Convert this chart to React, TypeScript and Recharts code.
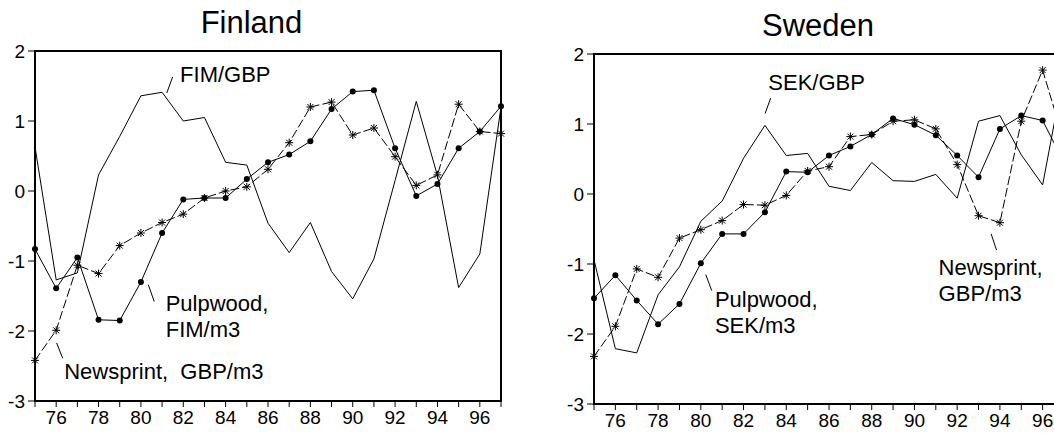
import { LineChart, Line, XAxis, YAxis, ReferenceArea, ReferenceLine, ReferenceDot } from 'recharts'

const years = [75, 76, 77, 78, 79, 80, 81, 82, 83, 84, 85, 86, 87, 88, 89, 90, 91, 92, 93, 94, 95, 96, 97]
const yTicks = [-3, -2, -1, 0, 1, 2]

// Finland
const finFimGbp = [0.63, -1.27, -1.17, 0.23, 0.78, 1.36, 1.41, 1.0, 1.05, 0.41, 0.37, -0.46, -0.88, -0.45, -1.15, -1.54, -0.97, 0.15, 1.28, 0.22, -1.38, -0.9, 1.2]
const finPulp = [-0.83, -1.39, -0.95, -1.84, -1.85, -1.3, -0.6, -0.12, -0.1, -0.1, 0.17, 0.41, 0.52, 0.71, 1.17, 1.42, 1.44, 0.61, -0.07, 0.1, 0.61, 0.85, 1.21]
const finNews = [-2.42, -1.99, -1.06, -1.18, -0.78, -0.6, -0.45, -0.33, -0.1, 0.0, 0.06, 0.31, 0.69, 1.2, 1.27, 0.8, 0.9, 0.49, 0.08, 0.23, 1.24, 0.85, 0.82]

// Sweden
const sweSekGbp = [-0.94, -2.21, -2.27, -1.44, -1.04, -0.39, -0.1, 0.51, 0.98, 0.55, 0.58, 0.11, 0.05, 0.45, 0.19, 0.18, 0.28, -0.06, 1.04, 1.12, 0.56, 0.13, 1.75]
const swePulp = [-1.49, -1.16, -1.52, -1.86, -1.57, -0.99, -0.57, -0.57, -0.26, 0.32, 0.31, 0.55, 0.68, 0.85, 1.08, 0.99, 0.84, 0.55, 0.24, 0.93, 1.12, 1.05, 0.45]
const sweNews = [-2.32, -1.89, -1.07, -1.19, -0.63, -0.51, -0.38, -0.15, -0.16, -0.02, 0.33, 0.39, 0.82, 0.85, 1.04, 1.06, 0.93, 0.42, -0.31, -0.41, 1.04, 1.77, 0.75]

// annotation text (data coords of first baseline) and leader segments
const finLabels = [
  { x: 81.85, y: 1.56, lines: ['FIM/GBP'] },
  { x: 81.17, y: -1.72, lines: ['Pulpwood,', 'FIM/m3'] },
  { x: 76.38, y: -2.69, lines: ['Newsprint,  GBP/m3'] },
]
const finLeaders = [
  [81.5, 1.63, 81.22, 1.4],
  [80.35, -1.34, 80.63, -1.58],
  [76.02, -2.17, 76.31, -2.39],
]
const sweLabels = [
  { x: 83.16, y: 1.48, lines: ['SEK/GBP'] },
  { x: 80.66, y: -1.61, lines: ['Pulpwood,', 'SEK/m3'] },
  { x: 91.13, y: -1.16, lines: ['Newsprint,', 'GBP/m3'] },
]
const sweLeaders = [
  [83.27, 1.37, 83.01, 1.15],
  [80.23, -1.15, 80.51, -1.38],
  [93.59, -0.57, 93.84, -0.8],
]

const FONT = '"Liberation Sans", Arial, sans-serif'

function Asterisk(props: any) {
  const { cx, cy } = props
  if (cx == null || cy == null) return <g key={props.index} />
  const s = 4
  const d = 3
  return (
    <g key={props.index} stroke="#000" strokeWidth={1}>
      <line x1={cx - s} y1={cy} x2={cx + s} y2={cy} />
      <line x1={cx} y1={cy - s} x2={cx} y2={cy + s} />
      <line x1={cx - d} y1={cy - d} x2={cx + d} y2={cy + d} />
      <line x1={cx - d} y1={cy + d} x2={cx + d} y2={cy - d} />
    </g>
  )
}

function labelShape(lines: string[]) {
  return (p: any) => (
    <text x={p.cx} y={p.cy} fontSize={22} fontFamily={FONT} fill="#000" style={{ whiteSpace: 'pre' }}>
      {lines.map((l, i) => (
        <tspan key={i} x={p.cx} dy={i === 0 ? 0 : 26}>{l}</tspan>
      ))}
    </text>
  )
}

interface PanelProps {
  rate: number[]
  pulp: number[]
  news: number[]
  labels: { x: number; y: number; lines: string[] }[]
  leaders: number[][]
  width: number
  margin: { top: number; right: number; bottom: number; left: number }
  xHeight: number
}

function Panel({ rate, pulp, news, labels, leaders, width, margin, xHeight }: PanelProps) {
  const data = years.map((yr, i) => ({ yr, rate: rate[i], pulp: pulp[i], news: news[i] }))
  const tick = { fontSize: 19, fill: '#000', fontFamily: FONT }
  return (
    <LineChart width={width} height={435} data={data} margin={margin}>
      <XAxis
        dataKey="yr"
        type="number"
        domain={[75, 97]}
        ticks={years}
        interval={0}
        tickFormatter={(v: number) => (v % 2 === 0 ? String(v) : '')}
        axisLine={false}
        tickLine={{ stroke: '#000', strokeWidth: 1 }}
        tickSize={6}
        tickMargin={4}
        height={xHeight}
        tick={tick}
      />
      <YAxis
        type="number"
        domain={[-3, 2]}
        ticks={yTicks}
        interval={0}
        axisLine={false}
        tickLine={{ stroke: '#000', strokeWidth: 1 }}
        tickSize={7}
        tickMargin={3}
        width={35}
        tick={tick}
      />
      <ReferenceArea x1={75} x2={97} y1={-3} y2={2} fill="none" stroke="#000" strokeWidth={2} fillOpacity={0} ifOverflow="visible" />
      <Line dataKey="rate" stroke="#000" strokeWidth={1} dot={false} isAnimationActive={false} />
      <Line dataKey="pulp" stroke="#000" strokeWidth={1} dot={{ r: 3, fill: '#000', stroke: '#000', strokeWidth: 0 }} isAnimationActive={false} />
      <Line dataKey="news" stroke="#000" strokeWidth={1} strokeDasharray="9 3" dot={(p: any) => <Asterisk {...p} key={p.index} />} isAnimationActive={false} />
      {leaders.map((s, i) => (
        <ReferenceLine key={'l' + i} segment={[{ x: s[0], y: s[1] }, { x: s[2], y: s[3] }]} stroke="#000" strokeWidth={1} />
      ))}
      {labels.map((l, i) => (
        <ReferenceDot key={'t' + i} x={l.x} y={l.y} r={0} shape={labelShape(l.lines)} />
      ))}
    </LineChart>
  )
}

export default function App() {
  return (
    <div style={{ position: 'fixed', left: 0, top: 0, width: 1054, height: 435, overflow: 'hidden', background: '#fff', fontFamily: FONT }}>
      <div style={{ position: 'absolute', left: 0, top: 0 }}>
        <Panel
          rate={finFimGbp}
          pulp={finPulp}
          news={finNews}
          labels={finLabels}
          leaders={finLeaders}
          width={520}
          margin={{ top: 51, right: 19, bottom: 0, left: 0 }}
          xHeight={34}
        />
      </div>
      <div style={{ position: 'absolute', left: 559, top: 0 }}>
        <Panel
          rate={sweSekGbp}
          pulp={swePulp}
          news={sweNews}
          labels={sweLabels}
          leaders={sweLeaders}
          width={515}
          margin={{ top: 54, right: 10, bottom: 0, left: 0 }}
          xHeight={31}
        />
      </div>
      <div style={{ position: 'absolute', left: 151.5, top: 7, width: 200, textAlign: 'center', fontSize: 31, lineHeight: 1 }}>Finland</div>
      <div style={{ position: 'absolute', left: 718, top: 10, width: 200, textAlign: 'center', fontSize: 31, lineHeight: 1 }}>Sweden</div>
    </div>
  )
}
